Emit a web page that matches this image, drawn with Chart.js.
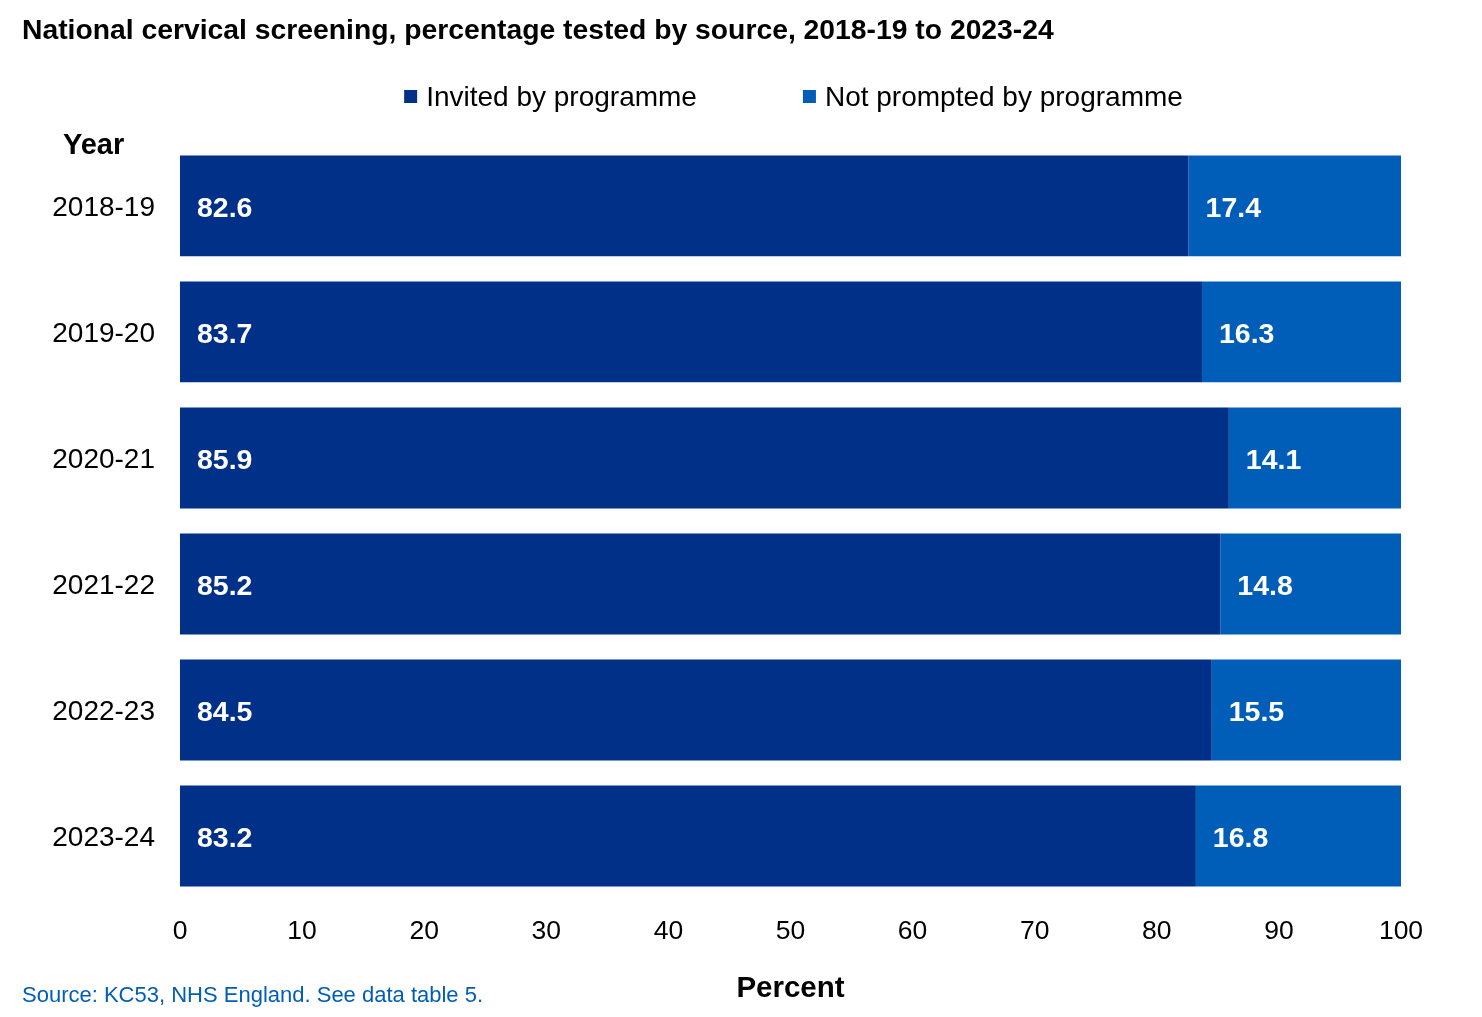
<!DOCTYPE html>
<html><head><meta charset="utf-8">
<script src="https://cdn.jsdelivr.net/npm/chart.js@4.4.1/dist/chart.umd.min.js"></script>
<style>html,body{margin:0;padding:0;background:#fff;}canvas{display:block;}</style>
</head><body>
<canvas id="c" width="1482" height="1017" style="width:1482px;height:1017px"></canvas>
<script>
const years = ['2018-19', '2019-20', '2020-21', '2021-22', '2022-23', '2023-24'];
const invited = [82.6, 83.7, 85.9, 85.2, 84.5, 83.2];
const notPrompted = [17.4, 16.3, 14.1, 14.8, 15.5, 16.8];
const seriesNames = ['Invited by programme', 'Not prompted by programme'];
const seriesColors = ['#003087', '#005EB8'];
const titleText = 'National cervical screening, percentage tested by source, 2018-19 to 2023-24';
const yAxisLabel = 'Year';
const xAxisLabel = 'Percent';
const sourceText = 'Source: KC53, NHS England. See data table 5.';

const FONT = '"Liberation Sans", Arial, Helvetica, sans-serif';
Chart.defaults.font.family = FONT;
Chart.defaults.color = '#000';

const barLabels = {
  id: 'barLabels',
  afterDatasetsDraw(chart) {
    const ctx = chart.ctx;
    ctx.save();
    ctx.fillStyle = '#fff';
    ctx.font = 'bold 28.5px ' + FONT;
    ctx.textAlign = 'left';
    ctx.textBaseline = 'middle';
    chart.data.datasets.forEach((ds, di) => {
      const meta = chart.getDatasetMeta(di);
      meta.data.forEach((el, i) => {
        const p = el.getProps(['x', 'y', 'base'], true);
        const left = Math.min(p.x, p.base);
        ctx.fillText(ds.data[i].toFixed(1), left + 17, p.y + 3);
      });
    });
    ctx.restore();
  }
};

const extras = {
  id: 'extras',
  afterDraw(chart) {
    const ctx = chart.ctx;
    const ca = chart.chartArea;
    ctx.save();
    // legend
    ctx.font = '28px ' + FONT;
    ctx.textBaseline = 'middle';
    ctx.textAlign = 'left';
    const box = 13, gapBT = 9, gapItems = 106;
    const widths = seriesNames.map(t => ctx.measureText(t).width);
    const total = widths.reduce((a, w) => a + box + gapBT + w, 0) + gapItems * (seriesNames.length - 1);
    let x = (ca.left + ca.right) / 2 - total / 2 + 3;
    const ly = 98;
    seriesNames.forEach((t, i) => {
      ctx.fillStyle = seriesColors[i];
      ctx.fillRect(x, ly - 8, box, box);
      ctx.fillStyle = '#000';
      ctx.fillText(t, x + box + gapBT, ly);
      x += box + gapBT + widths[i] + gapItems;
    });
    // Year label
    ctx.font = 'bold 29px ' + FONT;
    ctx.fillText(yAxisLabel, 63, 146);
    // source
    ctx.font = '22px ' + FONT;
    ctx.fillStyle = '#005EB8';
    ctx.fillText(sourceText, 22, 996);
    ctx.restore();
  }
};

new Chart(document.getElementById('c'), {
  type: 'bar',
  data: {
    labels: years,
    datasets: [
      { label: seriesNames[0], data: invited, backgroundColor: seriesColors[0], borderWidth: 0 },
      { label: seriesNames[1], data: notPrompted, backgroundColor: seriesColors[1], borderWidth: 0 }
    ]
  },
  options: {
    indexAxis: 'y',
    responsive: false,
    animation: false,
    devicePixelRatio: 1,
    layout: { padding: { left: 22, right: 81, top: 0, bottom: 0 } },
    datasets: { bar: { barPercentage: 0.8, categoryPercentage: 1 } },
    plugins: {
      legend: { display: false },
      tooltip: { enabled: false },
      title: {
        display: true,
        text: titleText,
        align: 'start',
        color: '#000',
        font: { size: 28.3, weight: 'bold' },
        padding: { top: 14, bottom: 95 }
      }
    },
    scales: {
      x: {
        stacked: true,
        min: 0,
        max: 100,
        ticks: { stepSize: 10, font: { size: 26.5 }, color: '#000', padding: 17 },
        grid: { display: false, drawTicks: false },
        border: { display: false },
        title: { display: true, text: xAxisLabel, color: '#000', font: { size: 29.5, weight: 'bold' }, padding: { top: 0, bottom: 10 } },
        afterFit(scale) { scale.height = 118; }
      },
      y: {
        stacked: true,
        ticks: { font: { size: 28 }, color: '#000', padding: 25, labelOffset: 2 },
        grid: { display: false, drawTicks: false },
        border: { display: false },
        afterFit(scale) { scale.width = 158; }
      }
    }
  },
  plugins: [barLabels, extras]
});
</script>
</body></html>
